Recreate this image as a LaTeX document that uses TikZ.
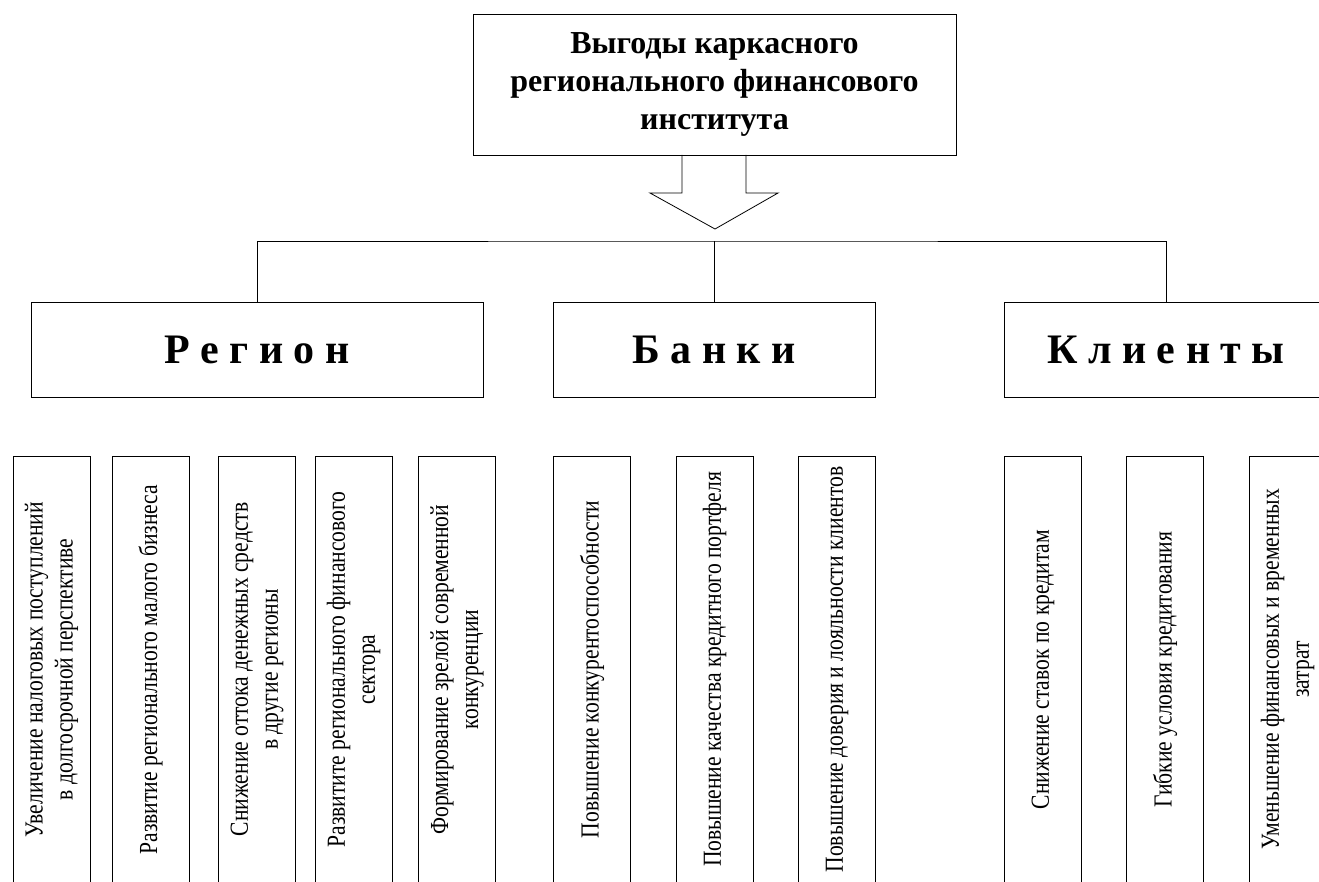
\documentclass[tikz,border=0pt]{standalone}
\usepackage{fontspec}
\setmainfont{Liberation Serif}
\newfontfamily\condfont{Liberation Serif}[FakeStretch=0.83]
\begin{document}
\begin{tikzpicture}[x=1pt,y=-1pt,
  line width=0.8pt,
  titlebox/.style={draw, minimum width=483pt, minimum height=141pt, align=center,
    font=\fontsize{32}{38}\selectfont\bfseries},
  groupbox/.style={draw, minimum height=95pt, align=center,
    font=\fontsize{42}{48}\selectfont\bfseries},
  itembox/.style={draw, rotate=90, minimum width=427pt, minimum height=77pt,
    inner sep=2pt, align=center, font=\condfont\fontsize{26}{30}\selectfont}
]
\useasboundingbox (0,0) rectangle (1319,882);
\clip (0,0) rectangle (1319,882);

\node[titlebox] (title) at (714.5,84.5) {Выгоды каркасного\\регионального финансового\\института};

\draw (682,155) -- (682,193) -- (650,193) -- (715,229) -- (778,193) -- (746,193) -- (746,155);

\node[groupbox, minimum width=452pt] (reg) at (257,349.5) {Р е г и о н};
\node[groupbox, minimum width=322pt] (bank) at (714,349.5) {Б а н к и};
\node[groupbox, minimum width=324pt] (cli) at (1166,349.5) {К л и е н т ы};

\coordinate (bus) at (714,241);
\draw (reg.north) |- (bus) -| (cli.north);
\draw (bank.north) -- (bus);

\node[itembox] (i1) at (51.5,669.5) {Увеличение налоговых поступлений\\в долгосрочной перспективе};
\node[itembox] (i2) at (150.5,669.5) {Развитие регионального малого бизнеса};
\node[itembox] (i3) at (257,669.5) {Снижение оттока денежных средств\\в другие регионы};
\node[itembox] (i4) at (353.5,669.5) {Развитите регионального финансового\\сектора};
\node[itembox] (i5) at (457,669.5) {Формирование зрелой современной\\конкуренции};
\node[itembox] (i6) at (592,669.5) {Повышение конкурентоспособности};
\node[itembox] (i7) at (714.5,669.5) {Повышение качества кредитного портфеля};
\node[itembox] (i8) at (837,669.5) {Повышение доверия и лояльности клиентов};
\node[itembox] (i9) at (1043,669.5) {Снижение ставок по кредитам};
\node[itembox] (i10) at (1165,669.5) {Гибкие условия кредитования};
\node[itembox] (i11) at (1287.5,669.5) {Уменьшение финансовых и временных\\затрат};
\end{tikzpicture}
\end{document}
